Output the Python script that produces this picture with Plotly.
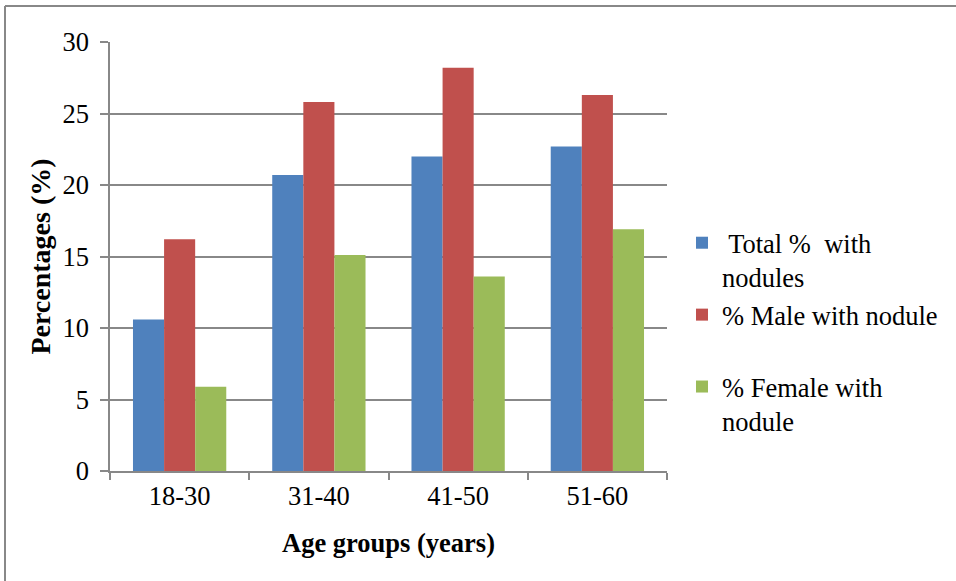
import plotly.graph_objects as go

categories = ["18-30", "31-40", "41-50", "51-60"]
total_pct = [10.6, 20.7, 22.0, 22.7]
male_pct = [16.2, 25.8, 28.2, 26.3]
female_pct = [5.9, 15.1, 13.6, 16.9]
series_names = [" Total %  with<br>nodules", "% Male with nodule<br>&nbsp;", "% Female with<br>nodule"]
colors = ["#4F81BD", "#C0504D", "#9BBB59"]
y_ticks = [0, 5, 10, 15, 20, 25, 30]

W, H = 956, 581
L, R, T, B = 110, 289, 42, 110
pw, ph = W - L - R, H - T - B

def px_x(p):
    return (p - L) / pw

def px_y(p):
    return (H - B - p) / ph

font = "Liberation Serif, Times New Roman, serif"
grid = "#888888"
fs = 26.5

fig = go.Figure()
for name, vals, col, g in zip(series_names, [total_pct, male_pct, female_pct], colors, ["a", "b", "c"]):
    fig.add_trace(go.Bar(x=categories, y=vals, name=name, marker_color=col,
                         marker_line_width=0, legendgroup=g))

fig.update_layout(
    width=W, height=H,
    margin=dict(l=L, r=R, t=T, b=B, autoexpand=False),
    paper_bgcolor="white", plot_bgcolor="white",
    barmode="group", bargap=0.33, bargroupgap=0,
    font=dict(family=font, size=fs, color="black"),
    legend=dict(x=px_x(682), y=px_y(219), xanchor="left", yanchor="top",
                font=dict(family=font, size=fs, color="black"),
                valign="top", traceorder="grouped", tracegroupgap=0,
                bgcolor="rgba(0,0,0,0)"),
    xaxis=dict(showline=True, linecolor=grid, linewidth=1.5, ticks="outside",
               tickson="boundaries", ticklen=7, tickcolor=grid, tickwidth=1.5,
               title=dict(text="<b>Age groups (years)</b>", font=dict(size=fs), standoff=24),
               tickfont=dict(size=fs)),
    yaxis=dict(range=[0, 30], tickvals=y_ticks, showline=True, linecolor=grid, linewidth=1.5,
               ticks="outside", ticklen=8, tickcolor=grid, tickwidth=1.5,
               showgrid=True, gridcolor=grid, gridwidth=1.5, zeroline=False,
               title=dict(text="<b>Percentages (%)</b>", font=dict(size=fs + 1.5), standoff=4),
               tickfont=dict(size=fs), ticklabelstandoff=6),
    shapes=[
        dict(type="line", xref="paper", yref="paper", x0=px_x(5), x1=px_x(W), y0=px_y(6), y1=px_y(6),
             line=dict(color=grid, width=2)),
        dict(type="line", xref="paper", yref="paper", x0=px_x(5), x1=px_x(5), y0=px_y(6), y1=px_y(H),
             line=dict(color=grid, width=2)),
    ],
)

fig.write_html("out.html", config={"displayModeBar": False},
               post_script="document.body.style.margin='0';document.body.style.overflow='hidden';")
